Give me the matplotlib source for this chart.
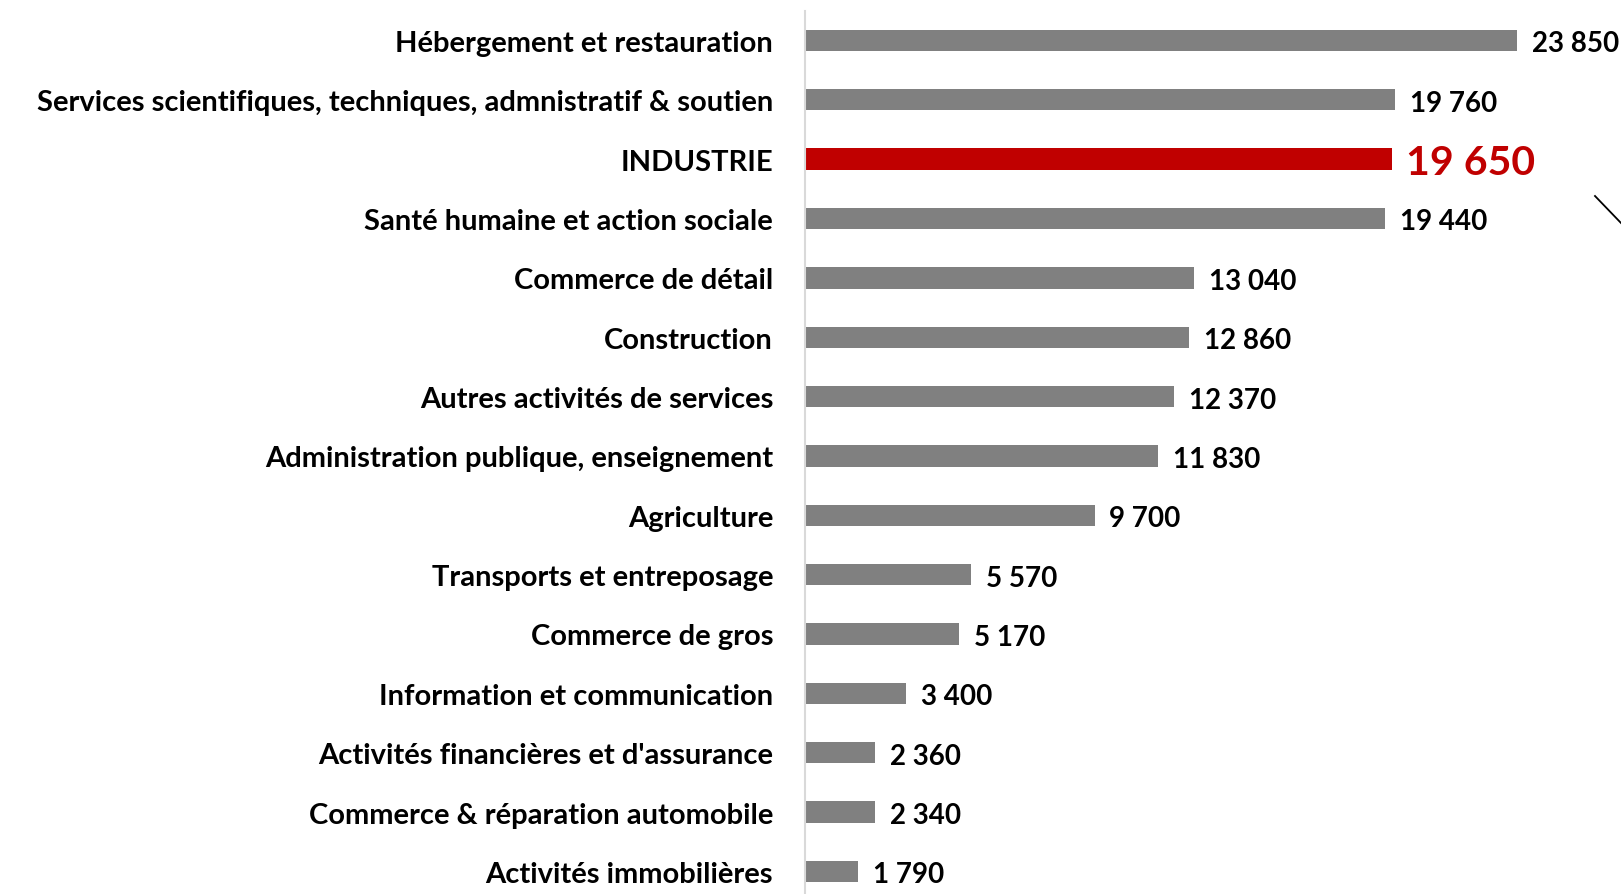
import matplotlib.pyplot as plt
from matplotlib.lines import Line2D

# data (top to bottom)
secteurs = ["Hébergement et restauration",
            "Services scientifiques, techniques, admnistratif & soutien",
            "INDUSTRIE",
            "Santé humaine et action sociale",
            "Commerce de détail",
            "Construction",
            "Autres activités de services",
            "Administration publique, enseignement",
            "Agriculture",
            "Transports et entreposage",
            "Commerce de gros",
            "Information et communication",
            "Activités financières et d'assurance",
            "Commerce & réparation automobile",
            "Activités immobilières"]
valeurs = [23850, 19760, 19650, 19440, 13040, 12860, 12370, 11830,
           9700, 5570, 5170, 3400, 2360, 2340, 1790]
highlight = "INDUSTRIE"

GRIS = "#808080"
ROUGE = "#C00000"

plt.rcParams['font.family'] = ['Lato', 'DejaVu Sans']

W, H = 1621, 895
fig = plt.figure(figsize=(W / 100, H / 100), dpi=100)
ax = fig.add_axes([805 / W, 0, 1 - 805 / W, 1 - 12 / H])

pos = list(range(len(secteurs)))
couleurs = [ROUGE if s == highlight else GRIS for s in secteurs]
ax.barh(pos, valeurs, height=0.36, color=couleurs)

ax.set_xlim(0, 27336)
ax.set_ylim(14.38, -0.495)

for p, v, s in zip(pos, valeurs, secteurs):
    txt = f"{v:,}".replace(",", " ")
    if s == highlight:
        ax.text(v + 500, p + 0.05, txt, va="center", ha="left",
                fontsize=29.5, fontweight="bold", color=ROUGE)
    else:
        ax.text(v + 500, p + 0.05, txt, va="center", ha="left",
                fontsize=20, fontweight="bold", color="black")

ax.set_yticks(pos)
ax.set_yticklabels(secteurs, fontsize=21, fontweight="bold")
ax.tick_params(axis="y", length=0, pad=23)
ax.set_xticks([])
for sp in ["top", "right", "bottom"]:
    ax.spines[sp].set_visible(False)
ax.spines["left"].set_color("#d9d9d9")
ax.spines["left"].set_linewidth(1.5)

# small stray line at top right
fig.add_artist(Line2D([1595 / W, 1621 / W], [1 - 197 / H, 1 - 224 / H],
                      color="black", linewidth=1.3))

fig.savefig("out.png", dpi=100)
